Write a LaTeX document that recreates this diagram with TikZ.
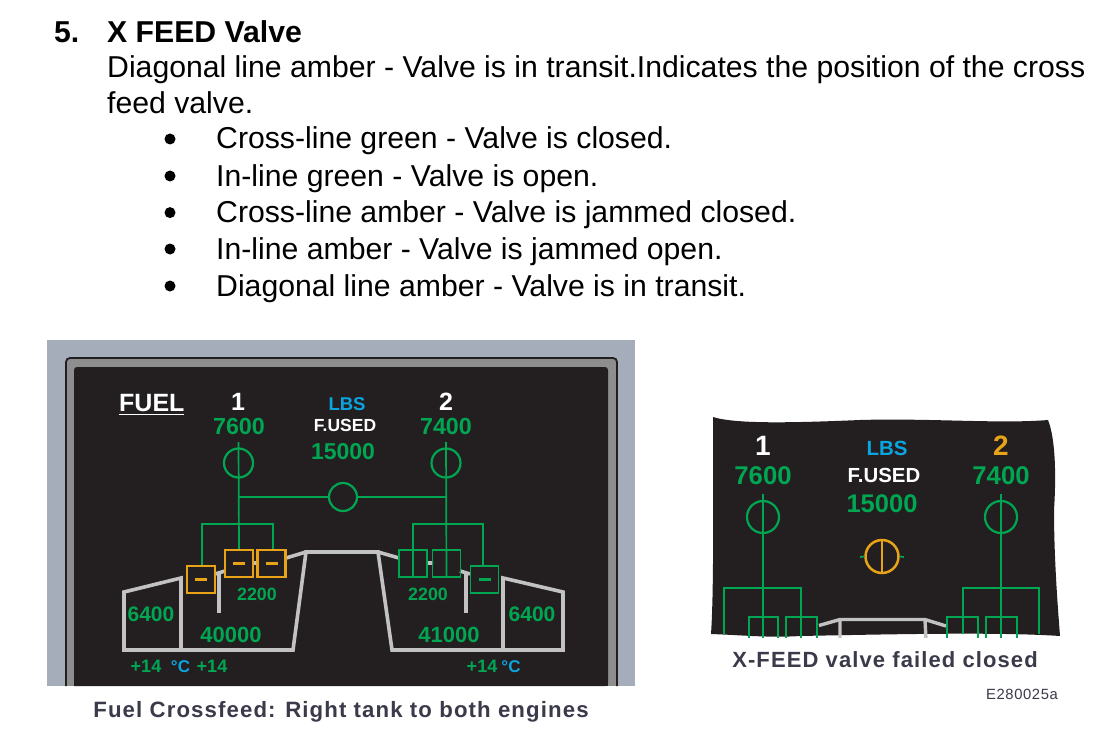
\documentclass[tikz,border=0pt]{standalone}
\usepackage{fontspec}
\setmainfont{Liberation Sans}
\newfontfamily\capfont[LetterSpace=5]{Liberation Sans}
\newfontfamily\codefont[LetterSpace=4]{Liberation Sans}
\definecolor{gline}{HTML}{00A651}
\definecolor{amb}{HTML}{E8A317}
\definecolor{lbsblue}{HTML}{0AA5E0}
\definecolor{scr}{HTML}{231F20}
\definecolor{panelgrey}{HTML}{A5ADBB}
\definecolor{ring}{HTML}{8E8E8E}
\definecolor{tank}{HTML}{C2C2C2}
\definecolor{capt}{HTML}{3A3A4A}
\tikzset{
 body/.style={anchor=base west,inner sep=0,font=\fontsize{30.2}{30}\selectfont,text=black},
 titletxt/.style={body,font=\fontsize{30.2}{30}\selectfont\bfseries},
 bullet/.style={circle,fill=black,inner sep=0,minimum size=11pt},
 gnum/.style={anchor=base,inner sep=0,text=gline,font=\fontsize{#1}{#1}\selectfont\bfseries},
 wtxt/.style={anchor=base,inner sep=0,text=white,font=\fontsize{#1}{#1}\selectfont\bfseries},
 btxt/.style={anchor=base,inner sep=0,text=lbsblue,font=\fontsize{#1}{#1}\selectfont\bfseries},
 valve/.style={circle,draw=gline,line width=2.2pt,inner sep=0,minimum size=#1},
 gl/.style={draw=gline,line width=1.7pt},
 gbold/.style={draw=gline,line width=2.3pt},
 ambbox/.style={rectangle,draw=amb,line width=2.1pt,inner sep=0,minimum width=28pt,minimum height=27pt},
 grnbox/.style={rectangle,draw=gline,line width=1.7pt,inner sep=0,minimum width=28pt,minimum height=27pt},
 tankline/.style={draw=tank,line width=3.6pt,line join=miter},
 dashmark/.style={line width=2.6pt},
 captxt/.style={anchor=base,inner sep=0,text=capt,font=\fontsize{#1}{#1}\selectfont\capfont\bfseries},
}
\begin{document}
\begin{tikzpicture}[x=1pt,y=-1pt]
\useasboundingbox (0,0) rectangle (1094,754);
\fill[white] (0,0) rectangle (1094,754);
% text block
\node[titletxt] (n5) at (54,43) {5.};
\node[titletxt] (ttl) at (107,43) {X FEED Valve};
\node[body] (l1) at (107,78) {Diagonal line amber - Valve is in transit.Indicates the position of the cross};
\node[body] (l2) at (107,114) {feed valve.};
\foreach \nm/\y/\t in {a/149/Cross-line green - Valve is closed.,b/186/In-line green - Valve is open.,c/222.6/Cross-line amber - Valve is jammed closed.,d/259/In-line amber - Valve is jammed open.,e/296/Diagonal line amber - Valve is in transit.}{
  \node[body] (t\nm) at (216,\y) {\t};
  \node[bullet] (b\nm) at (170,\y-10) {};
}
% left panel
\fill[panelgrey] (47,340) rectangle (635,686);
\fill[ring] (66,686) -- (66,358) -- (617,358) -- (617,686) -- cycle;
\draw[scr,line width=1.8pt,rounded corners=4pt] (66,686) -- (66,358) -- (617,358) -- (617,686);
\fill[scr,rounded corners=3pt] (74,686) -- (74,367) -- (608,367) -- (608,686) [sharp corners] -- cycle;
\fill[scr] (74,670) rectangle (608,686);
% left tanks
\draw[tankline] (181,650) -- (124,650) -- (124,592) -- (181,578) -- (181,650) -- (293,650) -- (306,552) -- (378,552) -- (392,650) -- (563,650) -- (563,592) -- (503,578) -- (503,650);
\draw[tankline] (286,558) -- (306,552) (378,552) -- (399,558);
\draw[tankline] (219,572) -- (219,613) (466,572) -- (466,613);
\draw[tankline] (215,574) -- (225,571) (253,563) -- (257,563) (427,563) -- (433,563) (460,571) -- (470,574);
% left network
\coordinate (top1) at (238.5,442);
\coordinate (top2) at (446,442);
\coordinate (j1) at (238.5,497);
\coordinate (j2) at (446,497);
\coordinate (c1l) at (202,524);
\coordinate (c1r) at (272.8,524);
\coordinate (c2l) at (412.5,524);
\coordinate (c2r) at (483,524);
\node[valve=29pt] (v1) at (238.5,463) {};
\node[valve=29pt] (v2) at (446,463) {};
\node[valve=28pt] (vx) at (343,497) {};
\node[ambbox] (bA) at (201,579.5) {};
\node[ambbox] (bB) at (239,563.5) {};
\node[ambbox] (bC) at (271.5,563.5) {};
\node[grnbox] (bD) at (413,563.5) {};
\node[grnbox] (bE) at (446.5,563.5) {};
\node[grnbox] (bF) at (484.5,579.5) {};
\draw[gl] (top1) -- (bB.north);
\draw[gl] (top2) -- (bE.south);
\draw[gl] (j1) -- (vx.west);
\draw[gl] (vx.east) -- (j2);
\draw[gl] (c1l |- bA.north) -- (c1l) -- (c1r) -- (c1r |- bC.north);
\draw[gl] (bD.south) -- (bD.north |- c2l) -- (c2r) -- (c2r |- bF.north);
\draw[draw=amb,dashmark] ([xshift=-6pt]bA.center) -- ([xshift=6pt]bA.center);
\draw[draw=amb,dashmark] ([xshift=-6pt]bB.center) -- ([xshift=6pt]bB.center);
\draw[draw=amb,dashmark] ([xshift=-6pt]bC.center) -- ([xshift=6pt]bC.center);
\draw[draw=gline,dashmark] ([xshift=-6pt]bF.center) -- ([xshift=6pt]bF.center);
% left texts
\node[wtxt=25,anchor=base west] (fuel) at (119,411) {FUEL};
\draw[white,line width=1.8pt] (119,414.5) -- (184,414.5);
\node[wtxt=25] (one) at (238,410) {1};
\node[wtxt=25] (two) at (446,410) {2};
\node[gnum=23.3] (q1) at (239,434) {7600};
\node[gnum=23.3] (q2) at (446,434) {7400};
\node[btxt=18.5] (lbs) at (347,410) {LBS};
\node[wtxt=17.5] (fused) at (345,431) {F.USED};
\node[gnum=23] (fu) at (343,459) {15000};
\node[gnum=17.8] (p1) at (257,600) {2200};
\node[gnum=17.8] (p2) at (428,600) {2200};
\node[gnum=21] (o1) at (151,621) {6400};
\node[gnum=21] (o2) at (532,621) {6400};
\node[gnum=22] (m1) at (231,642) {40000};
\node[gnum=22] (m2) at (449,642) {41000};
\node[gnum=18] (d1) at (146,672) {+14};
\node[btxt=17] (dc) at (180.5,672) {°C};
\node[gnum=18] (d2) at (212,672) {+14};
\node[gnum=18] (d3) at (482,672) {+14};
\node[btxt=17] (dc2) at (511,672) {°C};
\node[captxt=22.2] (cap1) at (341,717) {Fuel Crossfeed:  Right tank to both engines};
% right panel
\fill[scr] (713,417) .. controls (735,424) and (790,423) .. (860,420)
  .. controls (930,418) and (1000,424) .. (1048,420)
  .. controls (1056,440) and (1056,480) .. (1054,510)
  .. controls (1054,560) and (1058,610) .. (1060,636)
  .. controls (1000,632) and (900,634) .. (800,636)
  .. controls (770,638) and (740,635) .. (711,634)
  .. controls (714,590) and (713,500) .. (713,417) -- cycle;
\begin{scope}
\clip (700,410) rectangle (1070,637.5);
\draw[tankline,line width=3.4pt] (819,625.5) -- (840,619.5) -- (925,619.5) -- (946,626);
\draw[tankline,line width=3.4pt] (840,619.5) -- (840,640) (925,619.5) -- (926,640);
\coordinate (rt1) at (763,494);
\coordinate (rt2) at (1001,494);
\coordinate (rb1) at (763,640);
\coordinate (rb2) at (1001,640);
\node[valve=32pt] (rv1) at (763,517) {};
\node[valve=32pt] (rv2) at (1001,517) {};
\draw[gl] (rt1) -- (rb1);
\draw[gl] (rt2) -- (rb2);
\draw[gbold] (724,634) -- (724,588) -- (801,588) -- (801,640);
\draw[gbold] (963,634) -- (963,588) -- (1039,588) -- (1039,634);
\draw[gl] (749,640) -- (749,617) -- (778,617) -- (778,640);
\draw[gl] (786,640) -- (786,617) -- (817,617) -- (817,640);
\draw[gl] (947,640) -- (947,617) -- (978,617) -- (978,640);
\draw[gl] (986,640) -- (986,617) -- (1017,617) -- (1017,640);
\end{scope}
\coordinate (tkL) at (860,557);
\coordinate (tkR) at (904,557);
\node[circle,draw=amb,line width=2.5pt,inner sep=0,minimum size=33pt] (rvx) at (882,556.5) {};
\draw[amb,line width=1.8pt] (rvx.north) -- (rvx.south);
\draw[gl] (tkL) -- (rvx.west);
\draw[gl] (rvx.east) -- (tkR);
\node[wtxt=28] (r1) at (763,455) {1};
\node[text=amb,anchor=base,inner sep=0,font=\fontsize{28}{28}\selectfont\bfseries] (r2) at (1001,455) {2};
\node[gnum=25.7] (rq1) at (763,484) {7600};
\node[gnum=25.7] (rq2) at (1001,484) {7400};
\node[btxt=20.5] (rl) at (887,455) {LBS};
\node[wtxt=20.4] (rf) at (884,482) {F.USED};
\node[gnum=25.5] (rfu) at (882,512) {15000};
\node[captxt=22] (cap2) at (885,667) {X-FEED valve failed closed};
\node[anchor=base east,inner sep=0,text=capt,font=\fontsize{14.8}{15}\selectfont\codefont] (code) at (1058,699) {E280025a};
\end{tikzpicture}
\end{document}
